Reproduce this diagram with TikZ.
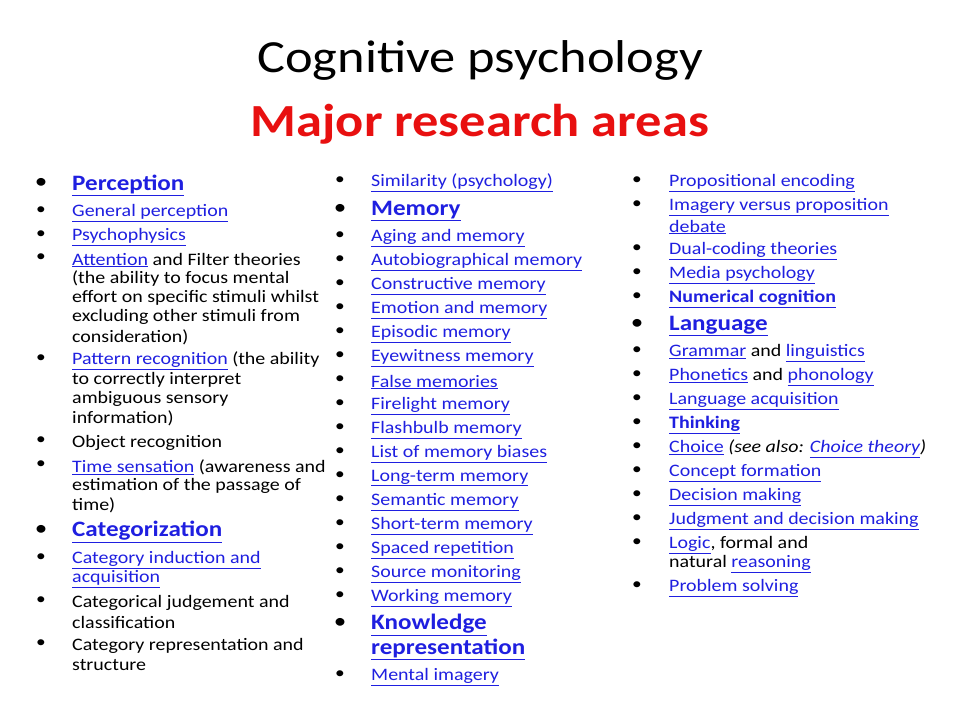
\documentclass[tikz,border=0pt]{standalone}
\usepackage{fontspec}
\setmainfont{Carlito}[FakeStretch=1.14]
\definecolor{lk}{HTML}{1F1FE0}
\definecolor{ttl}{HTML}{E81010}
\newcommand\lk[1]{\textcolor{lk}{\underline{#1}}}
\newcommand\Tx[3]{\node[txt] at (#1,#2+2) {#3};}
\newcommand\Hd[3]{\node[hd] at (#1,#2+2) {#3};}
\newcommand\Bu[2]{\node[bul] at (#1,#2) {\textbullet};}
\newcommand\BBu[2]{\node[bbul] at (#1,#2) {\textbullet};}
\begin{document}
\begin{tikzpicture}[x=1pt,y=-1pt,
  txt/.style={anchor=west,inner sep=0pt,font=\fontsize{17.5}{20}\selectfont},
  hd/.style={anchor=west,inner sep=0pt,font=\fontsize{22}{26}\selectfont\bfseries},
  bul/.style={inner sep=0pt,font=\fontsize{17}{20}\selectfont},
  bbul/.style={inner sep=0pt,font=\fontsize{22}{26}\selectfont},
  title/.style={inner sep=0pt,font=\fontsize{46}{52}\selectfont}]
\useasboundingbox[fill=white] (0,0) rectangle (960,720);
\node[title] (t1) at (480,60) {Cognitive psychology};
\node[title,text=ttl,font=\fontsize{46}{52}\selectfont\bfseries] (t2) at (480,124) {Major research areas};
% column 1
\BBu{41}{183}\Hd{72}{183}{\lk{Perception}}
\Bu{41}{211}\Tx{72}{211}{\lk{General perception}}
\Bu{41}{235}\Tx{72}{235}{\lk{Psychophysics}}
\Bu{41}{258}\Tx{72}{258}{\lk{Attention} and Filter theories}
\Tx{72}{277}{(the ability to focus mental}
\Tx{72}{296}{effort on specific stimuli whilst}
\Tx{72}{315}{excluding other stimuli from}
\Tx{72}{335}{consideration)}
\Bu{41}{359}\Tx{72}{359}{\lk{Pattern recognition} (the ability}
\Tx{72}{378}{to correctly interpret}
\Tx{72}{397}{ambiguous sensory}
\Tx{72}{416}{information)}
\Bu{41}{441}\Tx{72}{441}{Object recognition}
\Bu{41}{465}\Tx{72}{465}{\lk{Time sensation} (awareness and}
\Tx{72}{484}{estimation of the passage of}
\Tx{72}{503}{time)}
\BBu{41}{530}\Hd{72}{530}{\lk{Categorization}}
\Bu{41}{558}\Tx{72}{558}{\lk{Category induction and}}
\Tx{72}{577}{\lk{acquisition}}
\Bu{41}{601}\Tx{72}{601}{Categorical judgement and}
\Tx{72}{620}{classification}
\Bu{41}{644}\Tx{72}{644}{Category representation and}
\Tx{72}{663}{structure}
% column 2
\Bu{340}{181}\Tx{371}{181}{\lk{Similarity (psychology)}}
\BBu{340}{209}\Hd{371}{209}{\lk{Memory}}
\Bu{340}{236}\Tx{371}{236}{\lk{Aging and memory}}
\Bu{340}{260}\Tx{371}{260}{\lk{Autobiographical memory}}
\Bu{340}{284}\Tx{371}{284}{\lk{Constructive memory}}
\Bu{340}{308}\Tx{371}{308}{\lk{Emotion and memory}}
\Bu{340}{332}\Tx{371}{332}{\lk{Episodic memory}}
\Bu{340}{356}\Tx{371}{356}{\lk{Eyewitness memory}}
\Bu{340}{380}\Tx{371}{380}{\lk{False memories}}
\Bu{340}{404}\Tx{371}{404}{\lk{Firelight memory}}
\Bu{340}{428}\Tx{371}{428}{\lk{Flashbulb memory}}
\Bu{340}{452}\Tx{371}{452}{\lk{List of memory biases}}
\Bu{340}{476}\Tx{371}{476}{\lk{Long-term memory}}
\Bu{340}{500}\Tx{371}{500}{\lk{Semantic memory}}
\Bu{340}{524}\Tx{371}{524}{\lk{Short-term memory}}
\Bu{340}{548}\Tx{371}{548}{\lk{Spaced repetition}}
\Bu{340}{572}\Tx{371}{572}{\lk{Source monitoring}}
\Bu{340}{596}\Tx{371}{596}{\lk{Working memory}}
\BBu{340}{623}\Hd{371}{623}{\lk{Knowledge}}
\Hd{371}{647}{\lk{representation}}
\Bu{340}{675}\Tx{371}{675}{\lk{Mental imagery}}
% column 3
\Bu{637}{181}\Tx{669}{181}{\lk{Propositional encoding}}
\Bu{637}{205}\Tx{669}{205}{\lk{Imagery versus proposition}}
\Tx{669}{225}{\lk{debate}}
\Bu{637}{249}\Tx{669}{249}{\lk{Dual-coding theories}}
\Bu{637}{273}\Tx{669}{273}{\lk{Media psychology}}
\Bu{637}{297}\Tx{669}{297}{\textbf{\lk{Numerical cognition}}}
\BBu{637}{324}\Hd{669}{324}{\lk{Language}}
\Bu{637}{351}\Tx{669}{351}{\lk{Grammar} and \lk{linguistics}}
\Bu{637}{375}\Tx{669}{375}{\lk{Phonetics} and \lk{phonology}}
\Bu{637}{399}\Tx{669}{399}{\lk{Language acquisition}}
\Bu{637}{423}\Tx{669}{423}{\textbf{\lk{Thinking}}}
\Bu{637}{447}\Tx{669}{447}{\lk{Choice} \textit{(see also: \lk{Choice theory})}}
\Bu{637}{471}\Tx{669}{471}{\lk{Concept formation}}
\Bu{637}{495}\Tx{669}{495}{\lk{Decision making}}
\Bu{637}{519}\Tx{669}{519}{\lk{Judgment and decision making}}
\Bu{637}{543}\Tx{669}{543}{\lk{Logic}, formal and}
\Tx{669}{562}{natural \lk{reasoning}}
\Bu{637}{586}\Tx{669}{586}{\lk{Problem solving}}
\end{tikzpicture}
\end{document}
